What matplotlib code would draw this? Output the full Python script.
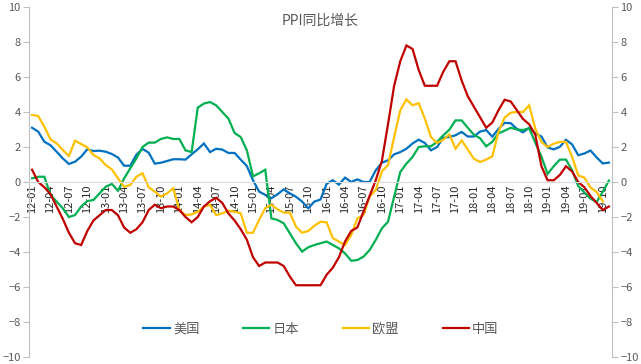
import numpy as np
import matplotlib
matplotlib.use("Agg")
import matplotlib.pyplot as plt

plt.rcParams['font.family'] = ['Noto Sans CJK SC', 'DejaVu Sans']

# monthly, 2012-01 .. 2019-11
months = ["%02d-%02d" % (y, m) for y in range(12, 20) for m in range(1, 13)][:95]

us = [3.1, 2.88, 2.3, 2.1, 1.73, 1.35, 1.03, 1.16, 1.45, 1.87, 1.77, 1.79,
      1.73, 1.6, 1.4, 0.93, 0.93, 1.56, 1.89, 1.68, 1.05, 1.1, 1.2, 1.3,
      1.3, 1.28, 1.58, 1.87, 2.2, 1.71, 1.9, 1.85, 1.66, 1.66, 1.28, 0.91,
      0.1, -0.55, -0.74, -0.93, -0.7, -0.42, -0.65, -0.84, -1.12, -1.5, -1.12, -1.0,
      -0.1, 0.1, -0.15, 0.25, 0.0, 0.15, 0.0, 0.0, 0.67, 1.1, 1.24, 1.58,
      1.71, 1.9, 2.2, 2.42, 2.23, 1.81, 2.0, 2.53, 2.57, 2.67, 2.86, 2.6,
      2.6, 2.88, 2.97, 2.59, 3.03, 3.38, 3.36, 3.03, 2.84, 3.1, 2.77, 2.6,
      1.98, 1.86, 2.01, 2.41, 2.15, 1.53, 1.63, 1.8, 1.4, 1.06, 1.11]

japan = [0.21, 0.3, 0.3, -0.74, -1.12, -1.5, -2.0, -1.89, -1.4, -1.09, -1.03, -0.65,
         -0.27, -0.11, -0.5, 0.21, 0.78, 1.35, 2.0, 2.25, 2.25, 2.46, 2.55, 2.46,
         2.46, 1.81, 1.71, 4.25, 4.48, 4.57, 4.38, 4.0, 3.62, 2.8, 2.57, 1.81,
         0.32, 0.5, 0.7, -2.08, -2.17, -2.36, -2.93, -3.5, -3.98, -3.73, -3.6, -3.5,
         -3.4, -3.6, -3.79, -4.08, -4.5, -4.46, -4.27, -3.89, -3.31, -2.65, -2.27, -0.84,
         0.57, 1.05, 1.43, 2.0, 2.04, 2.04, 2.29, 2.67, 2.99, 3.52, 3.52, 3.1,
         2.7, 2.5, 2.04, 2.3, 2.78, 2.93, 3.1, 3.0, 2.97, 3.07, 2.25, 1.45,
         0.46, 0.9, 1.28, 1.28, 0.67, -0.23, -0.6, -0.95, -1.15, -0.55, 0.08]

eu = [3.83, 3.77, 3.16, 2.44, 2.21, 1.83, 1.49, 2.36, 2.17, 1.98, 1.54, 1.35,
      0.97, 0.72, 0.21, -0.27, -0.17, 0.3, 0.5, -0.3, -0.55, -0.84, -0.65, -0.36,
      -1.6, -1.89, -1.85, -1.7, -1.41, -1.31, -1.89, -1.79, -1.64, -1.7, -1.79, -2.9,
      -2.9, -2.17, -1.5, -1.3, -1.56, -1.75, -1.75, -2.55, -2.9, -2.8, -2.5, -2.27,
      -2.3, -3.2, -3.41, -3.6, -3.03, -2.08, -1.89, -0.84, -0.46, 0.6, 0.97, 2.57,
      4.1, 4.72, 4.38, 4.51, 3.62, 2.57, 2.23, 2.42, 2.72, 1.9, 2.38, 1.85,
      1.33, 1.14, 1.28, 1.47, 2.86, 3.68, 3.96, 4.0, 4.0, 4.38, 3.05, 2.29,
      2.0, 2.19, 2.29, 2.29, 1.43, 0.38, 0.25, -0.32, -0.57, -1.1, np.nan]

china = [0.7, 0.0, -0.3, -0.7, -1.4, -2.1, -2.9, -3.5, -3.6, -2.8, -2.2, -1.9,
         -1.6, -1.6, -1.9, -2.6, -2.9, -2.7, -2.3, -1.6, -1.3, -1.5, -1.4, -1.4,
         -1.6, -2.0, -2.3, -2.0, -1.4, -1.1, -0.9, -1.2, -1.8, -2.2, -2.7, -3.3,
         -4.3, -4.8, -4.6, -4.6, -4.6, -4.8, -5.4, -5.9, -5.9, -5.9, -5.9, -5.9,
         -5.3, -4.9, -4.3, -3.4, -2.8, -2.6, -1.7, -0.8, 0.1, 1.2, 3.3, 5.5,
         6.9, 7.8, 7.6, 6.4, 5.5, 5.5, 5.5, 6.3, 6.9, 6.9, 5.8, 4.9,
         4.3, 3.7, 3.1, 3.4, 4.1, 4.7, 4.6, 4.1, 3.6, 3.3, 2.7, 0.9,
         0.1, 0.1, 0.4, 0.9, 0.6, 0.0, -0.3, -0.8, -1.2, -1.6, -1.4]

names = ["美国", "日本", "欧盟", "中国"]
colors = ["#0070C0", "#00B050", "#FFC000", "#C00000"]

grey = "#595959"
axis_grey = "#BFBFBF"

fig = plt.figure(figsize=(6.41, 3.64), dpi=100)
ax = fig.add_axes([29 / 641, 7 / 364, 583 / 641, 350 / 364])

x = np.arange(len(months))
for series, name, c in zip([us, japan, eu, china], names, colors):
    ax.plot(x, series, color=c, lw=1.6, label=name, solid_joinstyle='miter')

ax.set_xlim(-0.5, len(months) - 0.5)
ax.set_ylim(-10, 10)
ax.set_yticks(np.arange(-10, 11, 2))

ax.spines['top'].set_visible(False)
ax.spines['bottom'].set_position(('data', 0))
ax.spines['bottom'].set_color("#D9D9D9")
ax.spines['left'].set_color(axis_grey)
ax.spines['right'].set_visible(False)

ax.set_xticks(x[::3])
ax.set_xticklabels(months[::3], rotation=90, fontsize=8, color="#262626")
ax.tick_params(axis='x', length=0, pad=2)
ax.tick_params(axis='y', direction='out', length=4, color=axis_grey,
               labelsize=8, labelcolor=grey, pad=2)

ax2 = ax.twinx()
ax2.set_ylim(-10, 10)
ax2.set_yticks(np.arange(-10, 11, 2))
for s in ['top', 'bottom', 'left']:
    ax2.spines[s].set_visible(False)
ax2.spines['right'].set_color(axis_grey)
ax2.tick_params(axis='y', direction='out', length=4, color=axis_grey,
                labelsize=8, labelcolor=grey, pad=2)

fig.text(320 / 641, 1 - 21 / 364, "PPI同比增长", ha='center', va='center',
         fontsize=10, color=grey)

leg = ax.legend(loc='center', bbox_to_anchor=(321 / 641, 1 - 329 / 364),
                bbox_transform=fig.transFigure, ncol=4, frameon=False,
                fontsize=9.5, handlelength=2.0, handletextpad=0.25,
                columnspacing=3.3)
for t in leg.get_texts():
    t.set_color(grey)

fig.savefig("out.png", dpi=100)
